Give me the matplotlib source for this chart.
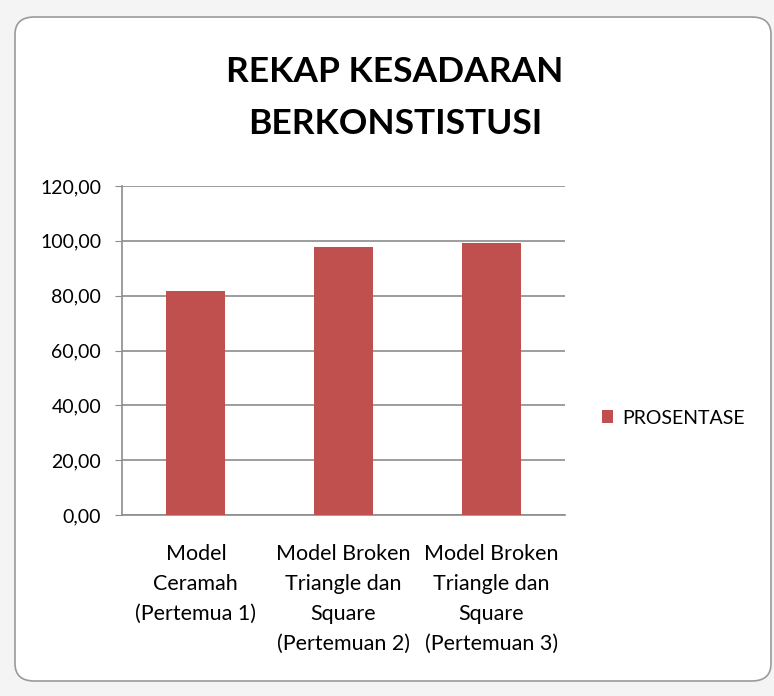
import numpy as np
import matplotlib.pyplot as plt
from matplotlib.patches import FancyBboxPatch

# data
categories = ['Model\nCeramah\n(Pertemua 1)',
              'Model Broken\nTriangle dan\nSquare\n(Pertemuan 2)',
              'Model Broken\nTriangle dan\nSquare\n(Pertemuan 3)']
prosentase = [81.7, 97.6, 99.1]
yticks = [0, 20, 40, 60, 80, 100, 120]
ytick_labels = ['0,00', '20,00', '40,00', '60,00', '80,00', '100,00', '120,00']

FONT = ['Lato', 'DejaVu Sans']
W, H = 774, 696
fig = plt.figure(figsize=(W/100, H/100), dpi=100)
fig.patch.set_facecolor('#f4f4f4')

# rounded chart frame
fig.patches.append(FancyBboxPatch((15/W, 1-681/H), 756/W, 664/H,
                                  boxstyle='round,pad=0,rounding_size=0.025',
                                  transform=fig.transFigure, facecolor='white',
                                  edgecolor='#9a9a9a', linewidth=1.2, zorder=1))

ax = fig.add_axes([122/W, 1-515/H, 443/W, 329/H])
ax.set_zorder(2)
ax.patch.set_alpha(0)
x = np.arange(len(categories))
ax.bar(x, prosentase, width=0.4, color='#c0504d', zorder=3, label='PROSENTASE')
ax.set_xlim(-0.5, 2.5)
ax.set_ylim(0, 120)
ax.set_yticks(yticks)
ax.set_yticklabels(ytick_labels, fontsize=14, family=FONT)
ax.set_xticks(x)
ax.set_xticklabels(categories, fontsize=15.5, linespacing=1.62, family=FONT)
ax.yaxis.grid(True, color='#8c8c8c', linewidth=1.2)
ax.set_axisbelow(True)
for s in ['top', 'right']:
    ax.spines[s].set_visible(False)
ax.spines['left'].set_color('#8c8c8c')
ax.spines['bottom'].set_color('#8c8c8c')
ax.spines['left'].set_linewidth(1.2)
ax.spines['bottom'].set_linewidth(1.2)
ax.tick_params(axis='y', length=5, color='#8c8c8c', pad=10)
ax.tick_params(axis='x', length=0, pad=21)

fig.text(395/W, 1-98/H, 'REKAP KESADARAN\nBERKONSTISTUSI', ha='center', va='center',
         fontsize=25.5, fontweight='bold', linespacing=1.75, family=FONT)

fig.legend(loc='center left', bbox_to_anchor=(584/W, 1-418/H), frameon=False,
           prop={'size': 14, 'family': FONT},
           handlelength=0.6, handleheight=0.6, handletextpad=0.45)

fig.savefig('out.png', dpi=100, facecolor=fig.get_facecolor())
